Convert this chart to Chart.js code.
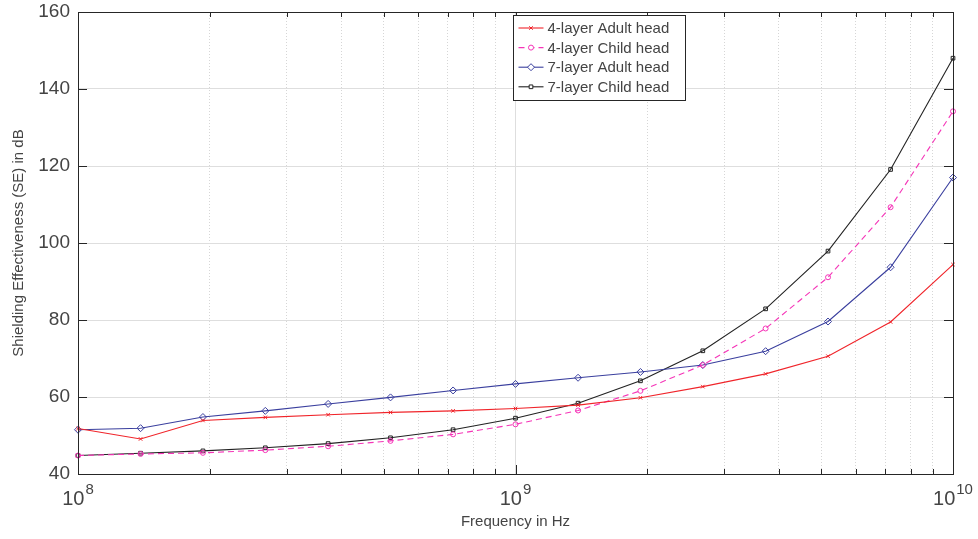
<!DOCTYPE html>
<html>
<head>
<meta charset="utf-8">
<script src="https://cdn.jsdelivr.net/npm/chart.js@4/dist/chart.umd.min.js"></script>
<style>
  html, body { margin: 0; padding: 0; background: #fff; }
  #wrap { width: 978px; height: 539px; position: relative; }
</style>
</head>
<body>
<div id="wrap"><canvas id="seChart" width="978" height="539"></canvas></div>
<script>
// frequency points (Hz)
const freqs = [1.0e8, 1.39e8, 1.93e8, 2.68e8, 3.73e8, 5.18e8, 7.2e8, 1.0e9,
               1.39e9, 1.93e9, 2.68e9, 3.73e9, 5.18e9, 7.2e9, 1.0e10];

// shielding effectiveness in dB
const adult4 = [51.8, 49.1, 53.9, 54.7, 55.4, 56.0, 56.4, 57.0, 57.9, 59.8, 62.7, 66.0, 70.6, 79.5, 94.4];
const child4 = [44.8, 45.2, 45.5, 46.2, 47.2, 48.6, 50.3, 52.9, 56.5, 61.6, 68.3, 77.8, 91.1, 109.3, 134.2];
const adult7 = [51.5, 51.9, 54.8, 56.4, 58.2, 59.9, 61.7, 63.4, 65.0, 66.5, 68.3, 71.9, 79.6, 93.7, 117.0];
const child7 = [44.8, 45.4, 46.0, 46.8, 47.9, 49.4, 51.5, 54.5, 58.4, 64.2, 72.0, 82.9, 97.9, 119.1, 148.0];

const seriesLabels = ['4-layer Adult head', '4-layer Child head', '7-layer Adult head', '7-layer Child head'];

// x ticks (log axis), majors get labels
const xTicks = [1e8, 2e8, 3e8, 4e8, 5e8, 6e8, 7e8, 8e8, 9e8,
                1e9, 2e9, 3e9, 4e9, 5e9, 6e9, 7e9, 8e9, 9e9, 1e10];
const xMajor = [1e8, 1e9, 1e10];
const xMajorExp = ['8', '9', '10'];
const yTicks = [40, 60, 80, 100, 120, 140, 160];

const textColor = '#444444';
const frameColor = '#262626';
const fontFam = '"Liberation Sans", Arial, sans-serif';

function pts(vals) {
    return freqs.map((f, i) => ({ x: f, y: vals[i] }));
}

function setTicks(scale) {
    scale.ticks = xTicks.map(v => ({ value: v, major: xMajor.includes(v) }));
}

// box, inward tick marks and 10^n labels
const framePlugin = {
    id: 'frame',
    afterDraw(chart) {
        const ctx = chart.ctx;
        const a = chart.chartArea;
        const xs = chart.scales.x;
        const ys = chart.scales.y;
        ctx.save();
        ctx.strokeStyle = frameColor;
        ctx.lineWidth = 1;
        ctx.beginPath();
        xTicks.forEach(v => {
            const px = Math.round(xs.getPixelForValue(v)) + 0.5;
            const len = xMajor.includes(v) ? 9 : 5;
            ctx.moveTo(px, a.bottom); ctx.lineTo(px, a.bottom - len);
            ctx.moveTo(px, a.top); ctx.lineTo(px, a.top + len);
        });
        yTicks.forEach(v => {
            const py = Math.round(ys.getPixelForValue(v)) + 0.5;
            ctx.moveTo(a.left, py); ctx.lineTo(a.left + 9, py);
            ctx.moveTo(a.right, py); ctx.lineTo(a.right - 9, py);
        });
        ctx.stroke();
        ctx.strokeRect(Math.round(a.left) + 0.5, Math.round(a.top) + 0.5,
                       Math.round(a.right - a.left), Math.round(a.bottom - a.top));

        // x labels with superscript exponent
        ctx.fillStyle = textColor;
        ctx.textBaseline = 'alphabetic';
        ctx.textAlign = 'left';
        xMajor.forEach((v, i) => {
            const px = xs.getPixelForValue(v);
            ctx.font = '20px ' + fontFam;
            const wBase = ctx.measureText('10').width;
            ctx.font = '15px ' + fontFam;
            const wExp = ctx.measureText(xMajorExp[i]).width;
            const x0 = px - (wBase + wExp + 1) / 2;
            ctx.font = '20px ' + fontFam;
            ctx.fillText('10', x0, a.bottom + 31);
            ctx.font = '15px ' + fontFam;
            ctx.fillText(xMajorExp[i], x0 + wBase + 1, a.bottom + 20);
        });
        ctx.restore();
    }
};

// legend box in the upper middle of the plot
const legendPlugin = {
    id: 'boxLegend',
    afterDraw(chart) {
        const ctx = chart.ctx;
        const left = 513.5, top = 15.5, w = 172, h = 85;
        ctx.save();
        ctx.fillStyle = '#ffffff';
        ctx.fillRect(left, top, w, h);
        ctx.strokeStyle = frameColor;
        ctx.lineWidth = 1;
        ctx.strokeRect(left, top, w, h);
        ctx.font = '15px ' + fontFam;
        ctx.textBaseline = 'middle';
        ctx.textAlign = 'left';
        chart.data.datasets.forEach((ds, i) => {
            const y = top + 12.5 + i * 19.6;
            ctx.strokeStyle = ds.borderColor;
            ctx.lineWidth = ds.borderWidth;
            ctx.setLineDash(ds.borderDash || []);
            ctx.beginPath();
            ctx.moveTo(left + 5, y);
            ctx.lineTo(left + 30, y);
            ctx.stroke();
            ctx.setLineDash([]);
            ctx.fillStyle = '#ffffff';
            ctx.lineWidth = 1;
            Chart.helpers.drawPoint(ctx, {
                pointStyle: ds.pointStyle,
                radius: ds.pointRadius,
                borderWidth: 1,
                rotation: 0
            }, left + 17.5, y);
            ctx.fillStyle = textColor;
            ctx.fillText(ds.label, left + 34, y + 1);
        });
        ctx.restore();
    }
};

const datasets = [
    { label: seriesLabels[0], data: pts(adult4), borderColor: '#f0242a', pointStyle: 'crossRot', pointRadius: 2.5 },
    { label: seriesLabels[1], data: pts(child4), borderColor: '#f535b8', pointStyle: 'circle', pointRadius: 2.5, borderDash: [6, 4] },
    { label: seriesLabels[2], data: pts(adult7), borderColor: '#3a3f9e', pointStyle: 'rectRot', pointRadius: 3.5 },
    { label: seriesLabels[3], data: pts(child7), borderColor: '#222222', pointStyle: 'rect', pointRadius: 2.6 }
].map(d => Object.assign({
    borderWidth: 1.1,
    pointBorderColor: d.borderColor,
    pointBackgroundColor: 'rgba(255,255,255,0)',
    pointBorderWidth: 1,
    tension: 0,
    clip: false
}, d));

const ctx = document.getElementById('seChart').getContext('2d');
window.seChart = new Chart(ctx, {
    type: 'line',
    data: { datasets: datasets },
    options: {
        responsive: false,
        animation: false,
        layout: { padding: { left: 0, right: 25, top: 12, bottom: 0 } },
        plugins: {
            legend: { display: false },
            tooltip: { enabled: false }
        },
        scales: {
            x: {
                type: 'logarithmic',
                position: 'bottom',
                min: 1e8,
                max: 1e10,
                afterBuildTicks: setTicks,
                afterFit(scale) {
                    scale.height = 65;
                    scale.paddingLeft = 0;
                    scale.paddingRight = 0;
                },
                ticks: { display: false },
                grid: {
                    drawTicks: false,
                    lineWidth: 1,
                    color: c => (c.tick && xMajor.includes(c.tick.value)) ? '#dedede' : 'rgba(0,0,0,0)'
                },
                border: { display: false },
                title: {
                    display: true,
                    text: 'Frequency in Hz',
                    color: textColor,
                    font: { family: fontFam, size: 15 },
                    padding: { top: 0, bottom: 8 }
                }
            },
            xMinor: {
                type: 'logarithmic',
                position: 'top',
                min: 1e8,
                max: 1e10,
                afterBuildTicks: setTicks,
                afterFit(scale) {
                    scale.height = 0;
                    scale.paddingLeft = 0;
                    scale.paddingRight = 0;
                },
                ticks: { display: false },
                grid: {
                    drawTicks: false,
                    lineWidth: 1,
                    color: c => (c.tick && !xMajor.includes(c.tick.value)) ? '#d6d6d6' : 'rgba(0,0,0,0)'
                },
                border: { display: false, dash: [1, 2] }
            },
            y: {
                min: 40,
                max: 160,
                afterBuildTicks(scale) { scale.ticks = yTicks.map(v => ({ value: v })); },
                afterFit(scale) {
                    scale.width = 78;
                    scale.paddingTop = 0;
                    scale.paddingBottom = 0;
                },
                ticks: {
                    color: textColor,
                    padding: 8,
                    font: { family: fontFam, size: 19 }
                },
                grid: { drawTicks: false, color: '#dedede', lineWidth: 1 },
                border: { display: false },
                title: {
                    display: true,
                    text: 'Shielding Effectiveness (SE) in dB',
                    color: textColor,
                    font: { family: fontFam, size: 15 },
                    padding: { top: 10, bottom: 0 }
                }
            }
        }
    },
    plugins: [framePlugin, legendPlugin]
});
</script>
</body>
</html>
